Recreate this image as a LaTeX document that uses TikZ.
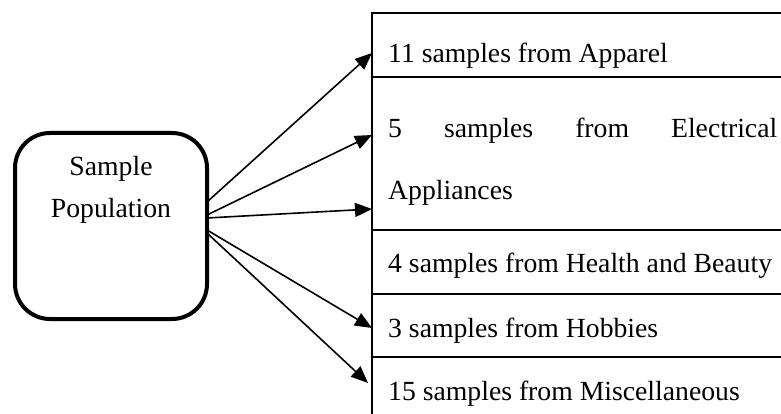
\documentclass[tikz,border=0pt]{standalone}
\usepackage{fontspec}
\setmainfont{Liberation Serif}
\usetikzlibrary{arrows.meta}
\begin{document}
\begin{tikzpicture}[x=1pt,y=-1pt,
  popbox/.style={draw,line width=4pt,rounded corners=35pt,minimum width=192pt,minimum height=186pt,inner sep=0pt},
  txt/.style={inner sep=0pt,anchor=base west,font=\fontsize{27.7pt}{33pt}\selectfont},
  rule/.style={line width=2pt},
  conn/.style={line width=1.6pt,-{Triangle[length=17pt,width=14pt]}}]
\useasboundingbox (0,0) rectangle (781,414);
% source box
\node[popbox] (pop) at (111,226) {};
\node[inner sep=0pt,align=center,font=\fontsize{27.7pt}{42pt}\selectfont,anchor=base] (poplabel) at (111,217) {Sample\\Population};
% table
\draw[rule] (372,414) -- (372,13);
\foreach \yy in {13,77,230,294,357} \draw[rule] (371,\yy) -- (781,\yy);
\node[txt] (r1) at (388,63) {11 samples from Apparel};
\node[txt] (r2) at (388,138) {\makebox[389pt][s]{5 samples from Electrical}};
\node[txt] (r2b) at (388,200) {Appliances};
\node[txt] (r3) at (388,272) {4 samples from Health and Beauty};
\node[txt] (r4) at (388,337) {3 samples from Hobbies};
\node[txt] (r5) at (388,400) {15 samples from Miscellaneous};
% connector ends
\coordinate (s1) at (207,202);
\coordinate (s2) at (207,215);
\coordinate (s3) at (207,218);
\coordinate (s4) at (207,230);
\coordinate (s5) at (207,233);
\coordinate (e1) at (372,53);
\coordinate (e2) at (372,135);
\coordinate (e3) at (372,209);
\coordinate (e4) at (372,328);
\coordinate (e5) at (368,383);
\draw[conn] (s1) -- (e1);
\draw[conn] (s2) -- (e2);
\draw[conn] (s3) -- (e3);
\draw[conn] (s4) -- (e4);
\draw[conn] (s5) -- (e5);
\end{tikzpicture}
\end{document}
